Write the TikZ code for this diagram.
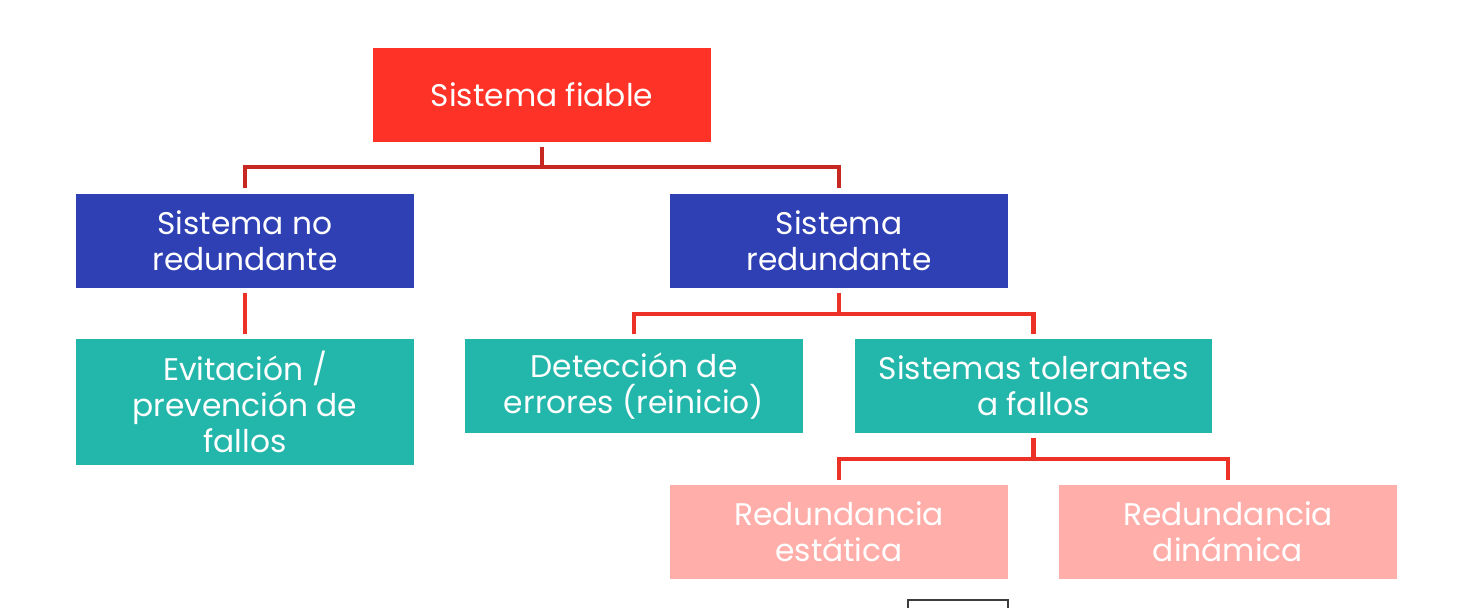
\documentclass[tikz,border=0pt]{standalone}
\usepackage{fontspec}
\setmainfont{Poppins}
\usepackage{tikz}
\definecolor{rootred}{RGB}{255,50,40}
\definecolor{navy}{RGB}{46,64,180}
\definecolor{teal}{RGB}{35,182,170}
\definecolor{rose}{RGB}{255,174,170}
\definecolor{linkdark}{RGB}{200,40,34}
\definecolor{linkred}{RGB}{236,49,38}
\definecolor{edgegray}{RGB}{60,60,60}
\usetikzlibrary{calc}

\begin{document}
\begin{tikzpicture}[
    box/.style={minimum width=6.76cm, minimum height=1.88cm, inner sep=0pt,
                align=center, text=white, font=\fontsize{17.8}{20.5}\selectfont},
    link/.style={line width=2.3pt, linkred}
  ]
    \useasboundingbox (0,0) rectangle (29.42,-12.14);
    % Boxes
    \node[box, fill=rootred] (root) at (10.84,-1.90) {Sistema fiable};
    \node[box, fill=navy] (nored) at (4.90,-4.81) {Sistema no\\redundante};
    \node[box, fill=navy] (red) at (16.78,-4.81) {Sistema\\redundante};
    \node[box, fill=teal, minimum height=2.52cm] (evit) at (4.90,-8.04) {Evitación /\\prevención de\\fallos};
    \node[box, fill=teal] (detec) at (12.68,-7.72) {Detección de\\errores (reinicio)};
    \node[box, fill=teal, minimum width=7.14cm] (toler) at (20.67,-7.72) {Sistemas tolerantes\\a fallos};
    \node[box, fill=rose] (estat) at (16.78,-10.64) {Redundancia\\estática};
    \node[box, fill=rose] (dinam) at (24.56,-10.64) {Redundancia\\dinámica};
    % Connectors
    \draw[link, linkdark] ([yshift=-0.1cm]root.south) -- ($(root.south)+(0,-0.5)$);
    \draw[link, linkdark] ([yshift=0.1cm]nored.north) |- ($(root.south)+(0,-0.5)$) -| ([yshift=0.1cm]red.north);
    \draw[link] ([yshift=-0.1cm]nored.south) -- ([yshift=0.1cm]evit.north);
    \draw[link] ([yshift=-0.1cm]red.south) -- ($(red.south)+(0,-0.52)$);
    \draw[link] ([yshift=0.1cm]detec.north) |- ($(red.south)+(0,-0.52)$) -| ([yshift=0.1cm]toler.north);
    \draw[link] ([yshift=-0.1cm]toler.south) -- ($(toler.south)+(0,-0.52)$);
    \draw[link] ([yshift=0.1cm]estat.north) |- ($(toler.south)+(0,-0.52)$) -| ([yshift=0.1cm]dinam.north);
    % Cut-off frame at the bottom
    \draw[edgegray, line width=0.8pt] (18.16,-12.40) |- (20.16,-12.00) -- (20.16,-12.40);
\end{tikzpicture}
\end{document}
